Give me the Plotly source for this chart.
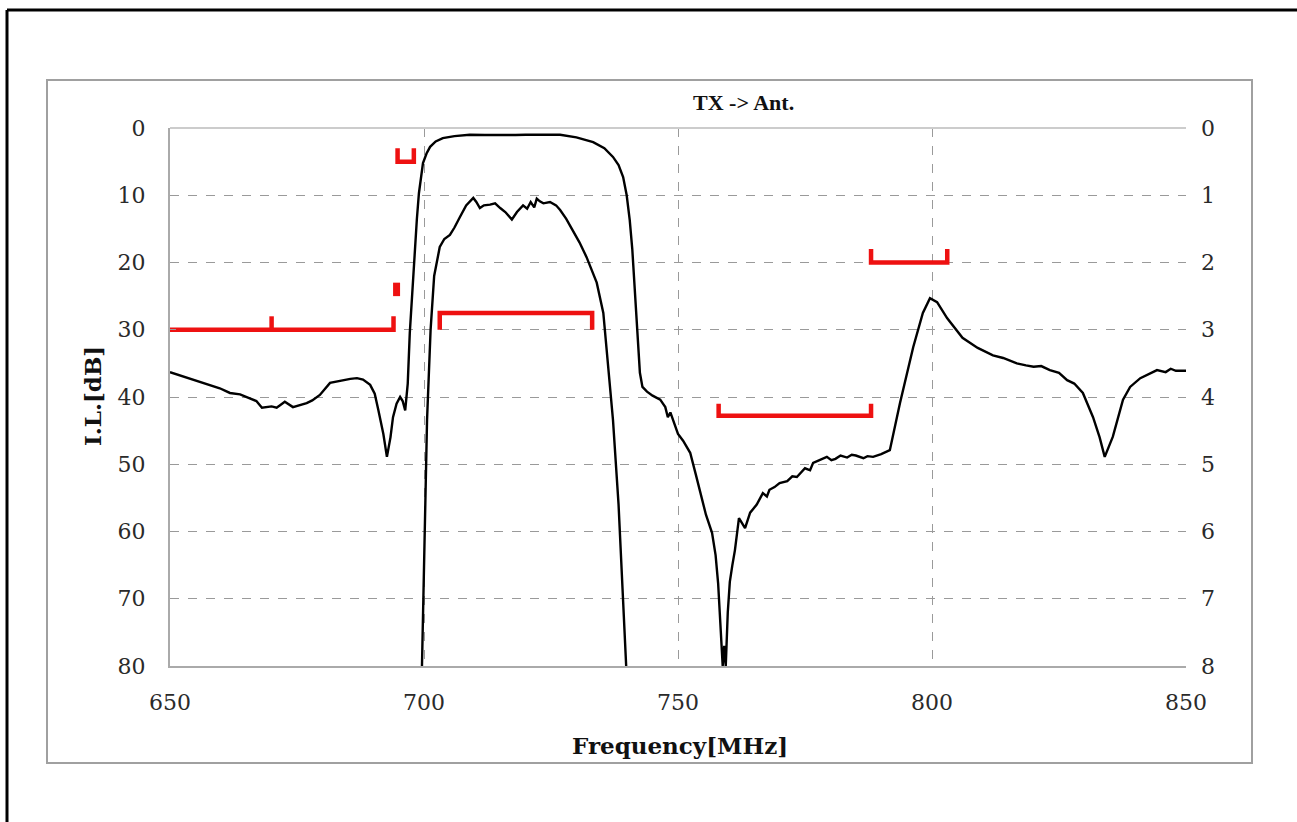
import plotly.graph_objects as go

# ---------------- data ----------------
freq_wide = [650, 655, 659.8, 661.8, 663.8, 665.7, 667, 668.1, 670, 671, 672.6, 674.2, 675.5,
             676.9, 678, 679.5, 681.5, 684, 685.5, 686.8, 688, 689.4, 690.3, 691, 692, 692.7,
             693.4, 693.9, 694.6, 695.3, 695.8, 696.3, 696.8, 697.2, 697.7, 698.2, 698.6, 699,
             699.4, 699.8, 700.5, 701.2, 702.3, 703.7, 706, 709, 712, 715, 718, 720, 723,
             726.8, 730, 733.3, 735.5, 737.2, 738.3, 739.2, 739.9, 740.5, 741, 741.5, 742,
             742.5, 743, 743.9, 745, 746.5, 747.5, 748, 748.5, 749.3, 750, 751, 752.4, 753.5,
             754.7, 755.5, 756.7, 757.4, 757.9, 758.5, 758.8, 759.1, 759.4, 759.8, 760.2,
             760.7, 761.2, 762, 762.6, 763.2, 764.2, 765.5, 766.7, 767.5, 768, 769, 770, 771.5,
             772.5, 773.4, 775, 776, 776.6, 778, 779.3, 780.2, 781, 782, 783.3, 784.2, 785,
             786.5, 787.3, 788.4, 790, 791.7, 793.7, 796.3, 798.2, 799.6, 801, 803, 806, 809,
             812, 814, 816.7, 818.5, 820, 821.5, 823.2, 825, 826.6, 828, 829.7, 831.7, 833,
             834, 835.6, 837.6, 839, 841, 842.5, 844.3, 846, 847, 848, 850]
il_wide = [36.3, 37.5, 38.7, 39.4, 39.6, 40.2, 40.6, 41.6, 41.4, 41.6, 40.7, 41.5, 41.2,
           40.9, 40.5, 39.7, 37.9, 37.5, 37.3, 37.2, 37.4, 38.2, 39.5, 41.9, 45.5, 48.9,
           46, 43, 41, 40, 40.6, 42, 38, 30.5, 24, 18.6, 13.5, 9.7, 7, 5.2, 3.8, 2.8, 2.0,
           1.5, 1.2, 1.0, 1.05, 1.1, 1.05, 1.0, 1.05, 1.0, 1.4, 2.1, 3.0, 4.3, 5.5, 7.3,
           10, 13.7, 18, 23.6, 30, 36.4, 38.5, 39.2, 39.8, 40.4, 41.5, 43, 42.3, 44, 45.5,
           46.5, 48.3, 51.5, 55.3, 57.5, 60.2, 63.5, 67.7, 76, 80, 77, 80, 72, 67.5, 65,
           62.8, 58.0, 58.8, 59.5, 57.2, 56, 54.3, 54.8, 53.8, 53.4, 52.8, 52.5, 51.8,
           51.9, 50.6, 50.9, 49.8, 49.3, 48.9, 49.4, 49.2, 48.7, 49.0, 48.6, 48.7, 49.1,
           48.8, 48.9, 48.5, 47.9, 40.9, 32.6, 27.5, 25.3, 25.9, 28.3, 31.2, 32.7, 33.8,
           34.2, 35.0, 35.3, 35.5, 35.4, 36.0, 36.4, 37.5, 38.0, 39.4, 43, 46, 48.9,
           45.9, 40.4, 38.5, 37.2, 36.6, 36.0, 36.3, 35.8, 36.1, 36.1]

freq_zoom = [699.6, 700.0, 700.6, 701.3, 702, 703.1, 704, 705.1, 706, 707.1, 708.3, 709.7,
             710.3, 711, 711.8, 713, 714, 715, 716, 717.3, 718.3, 719.5, 720.3, 721, 721.7,
             722.2, 722.8, 723.5, 724.8, 726, 726.8, 728, 729.3, 730.6, 732, 733, 734,
             735.3, 736.2, 737.2, 738.3, 739.2, 739.8]
il_zoom = [8.0, 6.5, 4.34, 3.0, 2.2, 1.77, 1.65, 1.59, 1.48, 1.32, 1.15, 1.04, 1.1, 1.19,
           1.15, 1.14, 1.12, 1.19, 1.25, 1.36, 1.25, 1.15, 1.2, 1.1, 1.18, 1.05, 1.09,
           1.12, 1.1, 1.15, 1.22, 1.35, 1.52, 1.7, 1.92, 2.1, 2.3, 2.75, 3.45, 4.34, 5.6,
           7.0, 8.0]

# spec masks (red brackets), dB on left axis
mask_f = [[650, 694, 694, None, 670, 670],
          [694.6, 694.6],
          [694.8, 694.8, 698, 698],
          [703.1, 703.1, 733.1, 733.1],
          [758, 758, 788, 788],
          [788, 788, 803, 803]]
mask_db = [[30, 30, 28, None, 30, 28],
           [23.0, 25.0],
           [3, 5, 5, 3],
           [30, 27.5, 27.5, 30],
           [41, 42.8, 42.8, 41],
           [18, 20, 20, 18]]
mask_w = [4.5, 7, 4.5, 4.5, 4.5, 4.5]

x_ticks = [650, 700, 750, 800, 850]
y_ticks = [0, 10, 20, 30, 40, 50, 60, 70, 80]
y2_ticks = [0, 1, 2, 3, 4, 5, 6, 7, 8]

# ---------------- layout geometry ----------------
W, H = 1297, 822
PL, PR, PT, PB = 170, 1186, 128, 666


def px(x):
    return (x - PL) / (PR - PL)


def py(y):
    return (PB - y) / (PB - PT)


fig = go.Figure()

for f, d, w in zip(mask_f, mask_db, mask_w):
    fig.add_trace(go.Scatter(x=f, y=d, mode="lines", line=dict(color="#ee1111", width=w),
                             hoverinfo="skip", showlegend=False, cliponaxis=False))

fig.add_trace(go.Scatter(x=freq_wide, y=il_wide, mode="lines",
                         line=dict(color="black", width=2.4), showlegend=False))
fig.add_trace(go.Scatter(x=freq_zoom, y=il_zoom, mode="lines", yaxis="y2",
                         line=dict(color="black", width=2.4), showlegend=False))

tickfont = dict(family="DejaVu Serif", size=22, color="#2a2a2a")

fig.update_layout(
    width=W, height=H, autosize=False,
    margin=dict(l=PL, r=W - PR, t=PT, b=H - PB, pad=0),
    paper_bgcolor="white", plot_bgcolor="white",
    xaxis=dict(range=[650, 850], tickvals=x_ticks, showgrid=True, gridcolor="#9a9a9a",
               griddash="dash", gridwidth=1, zeroline=False, showline=True,
               linecolor="#aaaaaa", linewidth=2, ticks="", tickfont=tickfont,
               ticklabelstandoff=16),
    yaxis=dict(range=[80, 0], tickvals=y_ticks, showgrid=True, gridcolor="#9a9a9a",
               griddash="dash", gridwidth=1, zeroline=False, showline=True,
               linecolor="#aaaaaa", linewidth=2, ticks="inside", ticklen=6,
               tickcolor="#999", tickfont=tickfont, ticklabelstandoff=18),
    yaxis2=dict(range=[8, 0], tickvals=y2_ticks, overlaying="y", side="right",
                showgrid=False, zeroline=False, showline=False, ticks="inside",
                ticklen=6, tickcolor="#999", tickfont=tickfont, ticklabelstandoff=14),
    shapes=[
        # outer black frame (left + top)
        dict(type="line", xref="paper", yref="paper", x0=px(7), x1=px(W + 5),
             y0=py(10), y1=py(10), line=dict(color="black", width=3)),
        dict(type="line", xref="paper", yref="paper", x0=px(7), x1=px(7),
             y0=py(10), y1=py(H + 5), line=dict(color="black", width=3)),
        # inner gray chart-area frame
        dict(type="rect", xref="paper", yref="paper", x0=px(47), x1=px(1252),
             y0=py(763), y1=py(80), line=dict(color="#a0a0a0", width=2)),
        # plot area top border
        dict(type="line", xref="paper", yref="paper", x0=0, x1=1, y0=1, y1=1,
             line=dict(color="#cccccc", width=2)),
    ],
    annotations=[
        dict(text="<b>TX -> Ant.</b>", xref="paper", yref="paper", x=px(743), y=py(103),
             showarrow=False, font=dict(family="Liberation Serif", size=22, color="#111"),
             xanchor="center", yanchor="middle"),
        dict(text="<b>I.L.[dB]</b>", xref="paper", yref="paper", x=px(92), y=py(396),
             showarrow=False, textangle=-90,
             font=dict(family="DejaVu Serif", size=23, color="#111"),
             xanchor="center", yanchor="middle"),
        dict(text="<b>Frequency[MHz]</b>", xref="paper", yref="paper", x=px(680), y=py(745),
             showarrow=False, font=dict(family="DejaVu Serif", size=23, color="#111"),
             xanchor="center", yanchor="middle"),
    ],
)

fig.write_html("out.html")
